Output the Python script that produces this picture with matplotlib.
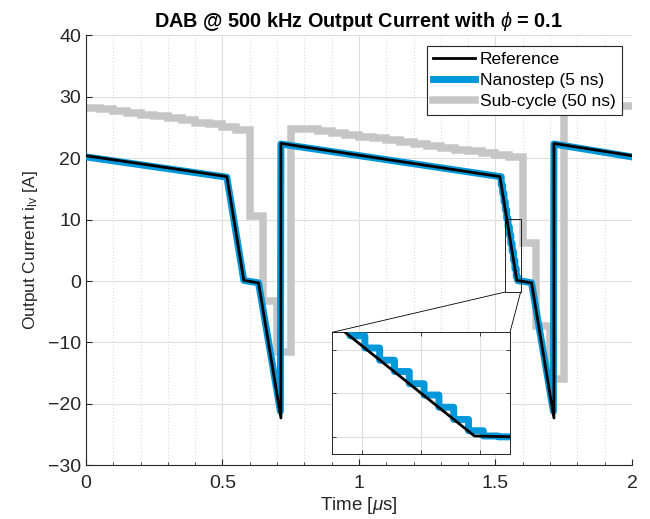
import numpy as np
import matplotlib
matplotlib.use("Agg")
import matplotlib.pyplot as plt
from matplotlib.patches import Rectangle, ConnectionPatch

plt.rcParams["font.family"] = ["Liberation Sans", "DejaVu Sans"]
plt.rcParams["mathtext.fontset"] = "custom"
plt.rcParams["mathtext.rm"] = "Liberation Sans"
plt.rcParams["mathtext.it"] = "Liberation Sans:italic"
plt.rcParams["mathtext.bf"] = "Liberation Sans:bold"

# time in microseconds, current in amps

# reference waveform (breakpoints)
ref_t = [0, 0.516, 0.578, 0.632, 0.714, 0.714, 1.516, 1.578, 1.632, 1.714, 1.714, 2.0]
ref_i = [20.4, 17.0, 0.1, -0.3, -22.3, 22.4, 17.0, 0.1, -0.3, -22.3, 22.4, 20.4]

# nanostep result: breakpoints, with the 5 ns stairs around the zoomed edge
nano_head_t = [0, 0.516, 0.578, 0.632, 0.712, 0.714]
nano_head_i = [20.2, 16.9, 0.1, -0.3, -21.2, 22.3]
nano_step_start = 1.516
nano_step_dt = 0.005
nano_steps = [17.0, 15.6, 14.3, 12.9, 11.6, 10.2, 8.8, 7.5, 6.1, 4.8, 3.4, 2.0, 0.7, 0.1, 0.0, 0.0]
nano_tail_t = [1.632, 1.712, 1.714, 2.0]
nano_tail_i = [-0.3, -21.2, 22.3, 20.2]

# sub-cycle result: one level per 50 ns
sub_dt = 0.05
sub_i = [28.2, 28.0, 27.7, 27.4, 27.1, 26.8, 26.5, 26.2, 25.8, 25.5, 25.1, 24.6,
         10.6, -3.2, -11.5,
         24.8, 24.7, 24.4, 24.1, 23.8, 23.5, 23.2, 22.9, 22.6, 22.3, 22.0, 21.7,
         21.4, 21.1, 20.8, 20.5, 20.2,
         6.2, -7.3, -16.0,
         28.6, 28.6, 28.5, 28.5, 28.5]

x_ticks = [0, 0.5, 1, 1.5, 2]
x_tick_labels = ["0", "0.5", "1", "1.5", "2"]
y_ticks = [-30, -20, -10, 0, 10, 20, 30, 40]

inset_xlim = (1.53, 1.59)
inset_ylim = (-2, 12)
inset_xticks = [1.54, 1.56, 1.58]
inset_yticks = [0, 5, 10]
zoom_box = (1.535, 1.592, -1.8, 10.1)

BLUE = "#0098DA"
GRAY = "#C6C6C6"
DARK = "#262626"


def stair_points(t0, dt, levels):
    edges = t0 + dt * np.arange(len(levels) + 1)
    t = np.repeat(edges, 2)[1:-1]
    i = np.repeat(levels, 2)
    return t, i


step_t, step_i = stair_points(nano_step_start, nano_step_dt, nano_steps)
nano_t = np.concatenate([nano_head_t, step_t, nano_tail_t])
nano_i = np.concatenate([nano_head_i, step_i, nano_tail_i])
sub_edges = sub_dt * np.arange(len(sub_i) + 1)


def draw_series(ax):
    ax.stairs(sub_i, sub_edges, baseline=None, color=GRAY, lw=5.4,
              label="Sub-cycle (50 ns)", zorder=2)
    ax.plot(nano_t, nano_i, color=BLUE, lw=5.0, label="Nanostep (5 ns)", zorder=3)
    ax.plot(ref_t, ref_i, color="black", lw=2.0, label="Reference", zorder=4)


fig = plt.figure(figsize=(6.5, 5.19), dpi=100)
ax = fig.add_axes([0.1323, 0.1035, 0.840, 0.8285])

draw_series(ax)

ax.set_xlim(0, 2)
ax.set_ylim(-30, 40)
ax.set_xticks(x_ticks)
ax.set_xticklabels(x_tick_labels)
ax.set_xticks(np.arange(0, 2.01, 0.1), minor=True)
ax.set_yticks(y_ticks)
ax.tick_params(direction="in", colors=DARK, labelsize=14, length=4, width=0.8)
ax.tick_params(axis="x", pad=7)
ax.tick_params(which="minor", direction="in", length=2.5, width=0.6, colors=DARK)
ax.grid(True, which="major", color="#DEDEDE", lw=0.8)
ax.grid(True, which="minor", axis="x", color="#C4C4C4", lw=0.6, ls=(0, (1, 3)))
ax.set_axisbelow(True)
for side in ["top", "right"]:
    ax.spines[side].set_visible(False)
for side in ["left", "bottom"]:
    ax.spines[side].set_color(DARK)
    ax.spines[side].set_linewidth(0.8)

ax.set_title(r"DAB @ 500 kHz Output Current with $\phi$ = 0.1",
             fontsize=14.3, fontweight="bold", pad=6)
ax.set_xlabel(r"Time [$\mu$s]", fontsize=13.5, color=DARK, labelpad=2)
ax.set_ylabel(r"Output Current i$_{\mathregular{lv}}$ [A]", fontsize=12.5, color=DARK, labelpad=6)

handles, labels = ax.get_legend_handles_labels()
order = [labels.index(n) for n in ["Reference", "Nanostep (5 ns)", "Sub-cycle (50 ns)"]]
leg = ax.legend([handles[k] for k in order], [labels[k] for k in order],
                loc="upper right", fontsize=12.5, fancybox=False, framealpha=1,
                edgecolor=DARK, handlelength=2.4, handletextpad=0.3,
                labelspacing=0.35, borderpad=0.35, borderaxespad=0.6)
leg.get_frame().set_linewidth(0.8)

# zoom box on the main axes
bx0, bx1, by0, by1 = zoom_box
ax.add_patch(Rectangle((bx0, by0), bx1 - bx0, by1 - by0, fill=False,
                       edgecolor="black", lw=0.6, zorder=6))

axins = fig.add_axes([0.5112, 0.1247, 0.2734, 0.235])
draw_series(axins)
axins.set_xlim(*inset_xlim)
axins.set_ylim(*inset_ylim)
axins.set_xticks(inset_xticks)
axins.set_yticks(inset_yticks)
axins.set_xticklabels([])
axins.set_yticklabels([])
axins.tick_params(direction="in", top=True, right=True, length=3, width=0.6, colors=DARK)
axins.grid(True, color="#DEDEDE", lw=0.8)
axins.set_axisbelow(True)
for s in axins.spines.values():
    s.set_color(DARK)
    s.set_linewidth(0.7)

for xy_main, xy_ins in [((bx0, by0), (0, 1)), ((bx1, by0), (1, 1))]:
    con = ConnectionPatch(xyA=xy_main, coordsA=ax.transData, xyB=xy_ins,
                          coordsB=axins.transAxes, color="black", lw=0.6)
    fig.add_artist(con)

fig.savefig("out.png", dpi=100)
